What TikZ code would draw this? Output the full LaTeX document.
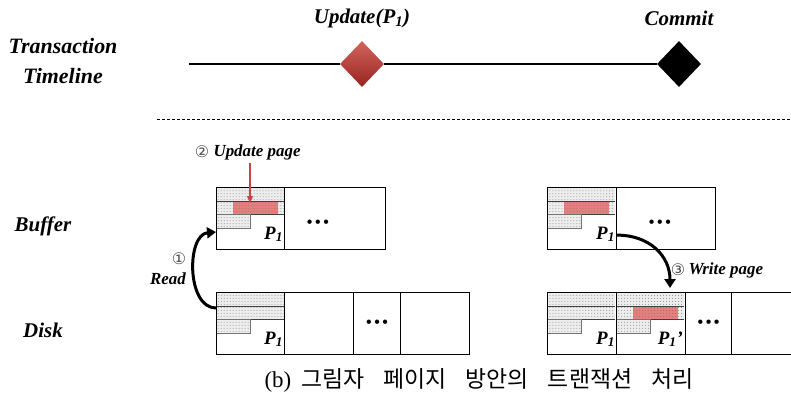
\documentclass[tikz,border=0pt]{standalone}
\usepackage{fontspec}
\setmainfont{Liberation Serif}
\newfontfamily\symfont{DejaVu Sans}
\newfontfamily\krfont{Noto Sans CJK KR}
\usetikzlibrary{shapes.geometric,patterns,arrows.meta,positioning}

\definecolor{updred}{RGB}{200,62,52}
\definecolor{updreddark}{RGB}{150,36,32}
\definecolor{hotred}{RGB}{226,128,128}
\definecolor{arrred}{RGB}{196,70,70}

\tikzset{
  label/.style={font=\fontsize{21}{25}\selectfont\bfseries\itshape, inner sep=0pt},
  small label/.style={font=\fontsize{17}{20}\selectfont\bfseries\itshape, inner sep=0pt},
  num/.style={font=\fontsize{16}{18}\selectfont\symfont, text=black!70, inner sep=0pt},
  cell/.style={draw, line width=1.1bp, anchor=north west, inner sep=0pt},
  pagelbl/.style={font=\fontsize{19}{22}\selectfont\bfseries\itshape, anchor=south east, inner sep=0pt},
  dotsnode/.style={font=\fontsize{16}{18}\selectfont\bfseries, inner sep=0pt},
  dotfill/.style={fill=black!7, postaction={pattern=dots, pattern color=black!45}},
  redfill/.style={fill=hotred, postaction={pattern=dots, pattern color=red!55!black!60}},
  bigarrow/.style={line width=3bp, -{Triangle[length=9bp,width=11bp]}},
}

% stripes of a page; #1 = north west corner, #2 = 1 if updated
\newcommand{\pagestripes}[2]{%
  \path[dotfill] (#1) rectangle ++(68,14);
  \path[dotfill] ([shift={(0,14)}]#1) rectangle ++(68,13);
  \path[dotfill] ([shift={(0,27)}]#1) rectangle ++(34,14);
  \ifnum#2=1 \path[redfill] ([shift={(17,15)}]#1) rectangle ++(45,12); \fi
  \draw[black!75, line width=0.8bp] ([shift={(0,14)}]#1) -- ++(68,0)
    ([shift={(0,27)}]#1) -- ++(68,0);
  \draw[black!55, line width=0.8bp] ([shift={(0,27)}]#1) -- ++(34,0) -- ++(0,14) -- ++(-34,0);
}

\begin{document}
\begin{tikzpicture}[x=1bp, y=-1bp]
  \useasboundingbox (0,0) rectangle (791,397);

  % timeline
  \node[label, font=\fontsize{22}{26}\selectfont\bfseries\itshape, align=center] (txlbl) at (63,61) {Transaction\\[4bp]Timeline};
  \coordinate (tstart) at (189,64);
  \node[diamond, inner sep=0pt, minimum width=44bp, minimum height=46bp,
        top color=updred!80!white, bottom color=updreddark] (update) at (362,64) {};
  \node[diamond, inner sep=0pt, minimum width=44bp, minimum height=46bp,
        fill=black] (commit) at (679,64) {};
  \node[label] (updlbl) at (362,18) {Update(P\textsubscript{1})};
  \node[label] (comlbl) at (679,18) {Commit};
  \draw[line width=1.2bp] (tstart) -- (update) (update) -- (commit);

  \draw[line width=1bp, dash pattern=on 3bp off 2bp] (157,119) -- (791,119);

  % side labels
  \node[label] (buflbl) at (43,226) {Buffer};
  \node[label] (disklbl) at (43,330) {Disk};

  % buffer (left)
  \begin{scope}
    \pagestripes{216,187}{1}
    \node[cell, minimum width=68bp, minimum height=62bp] (bp1) at (216,187) {};
    \node[cell, minimum width=101bp, minimum height=62bp] (bpx) at (284,187) {};
  \end{scope}
  \node[pagelbl] (bp1lbl) at ([shift={(-2,-8)}]bp1.south east) {P\textsubscript{1}};
  \node[dotsnode] (bpdots) at (318,224) {\textbullet\,\textbullet\,\textbullet};

  % disk (left)
  \begin{scope}
    \pagestripes{216,292}{0}
    \node[cell, minimum width=68bp, minimum height=62bp] (dp1) at (216,292) {};
    \node[cell, minimum width=69bp, minimum height=62bp] (dp2) at (284,292) {};
    \node[cell, minimum width=47bp, minimum height=62bp] (dp3) at (353,292) {};
    \node[cell, minimum width=69bp, minimum height=62bp] (dp4) at (400,292) {};
  \end{scope}
  \node[pagelbl] (dp1lbl) at ([shift={(-2,-8)}]dp1.south east) {P\textsubscript{1}};
  \node[dotsnode] (dpdots) at (dp3) {\textbullet\,\textbullet\,\textbullet};

  % buffer (right)
  \begin{scope}
    \pagestripes{547,187}{1}
    \node[cell, minimum width=69bp, minimum height=62bp] (rbp1) at (547,187) {};
    \node[cell, minimum width=99bp, minimum height=62bp] (rbpx) at (616,187) {};
  \end{scope}
  \node[pagelbl] (rbp1lbl) at ([shift={(-2,-8)}]rbp1.south east) {P\textsubscript{1}};
  \node[dotsnode] (rbpdots) at (660,224) {\textbullet\,\textbullet\,\textbullet};

  % disk (right)
  \begin{scope}
    \pagestripes{547,292}{0}
    \pagestripes{616,292}{1}
    \node[cell, minimum width=69bp, minimum height=62bp] (rdp1) at (547,292) {};
    \node[cell, minimum width=69bp, minimum height=62bp] (rdp2) at (616,292) {};
    \node[cell, minimum width=46bp, minimum height=62bp] (rdp3) at (685,292) {};
    \node[cell, minimum width=70bp, minimum height=62bp] (rdp4) at (731,292) {};
  \end{scope}
  \node[pagelbl] (rdp1lbl) at ([shift={(-2,-8)}]rdp1.south east) {P\textsubscript{1}};
  \node[pagelbl] (rdp2lbl) at ([shift={(-3,-8)}]rdp2.south east) {P\textsubscript{1}'};
  \node[dotsnode] (rdpdots) at (rdp3) {\textbullet\,\textbullet\,\textbullet};

  % (1) read
  \draw[bigarrow] ([shift={(0,16)}]dp1.north west)
    to[out=180, in=185, looseness=1] ([shift={(0,45)}]bp1.north west);
  \node[num] (n1) at (179,259) {①};
  \node[small label] (readlbl) at (168,279) {Read};

  % (2) update page
  \node[num] (n2) at (202,152) {②};
  \node[small label, right=4bp of n2] (updpage) {Update page};
  \coordinate (redtop) at (250,163);
  \draw[arrred, line width=1.2bp, -{Triangle[length=7bp,width=6bp]}] (redtop) -- (250,203);

  % (3) write page
  \draw[bigarrow] ([shift={(0,-15)}]rbp1.south east)
    to[out=0, in=90, looseness=1.1] ([shift={(54,-4)}]rdp2.north west);
  \node[num] (n3) at (678,270) {③};
  \node[small label, right=3bp of n3] (writelbl) {Write page};

  % caption
  \node[font=\fontsize{23}{27}\selectfont, inner sep=0pt] (caption) at (479,380)
    {(b)\hspace{10bp}\krfont 그림자\hspace{19bp}페이지\hspace{19bp}방안의\hspace{19bp}트랜잭션\hspace{19bp}처리};
\end{tikzpicture}
\end{document}
